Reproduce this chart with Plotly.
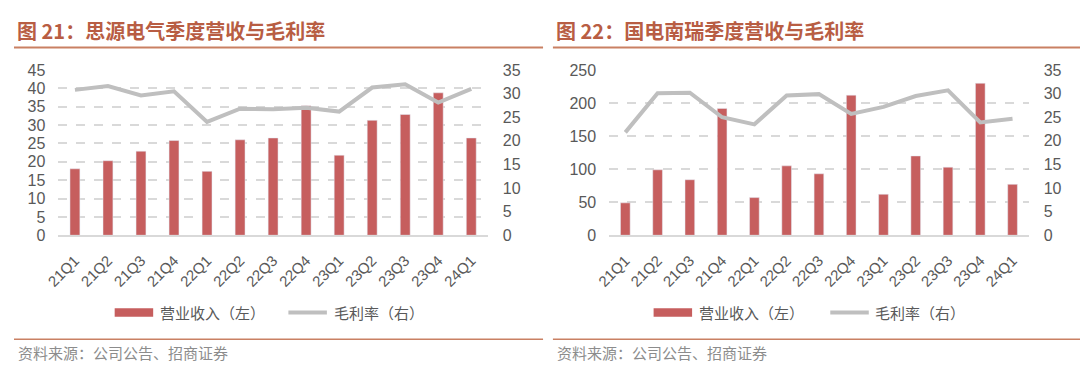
import plotly.graph_objects as go

W, H = 1080, 376

quarters = ["21Q1", "21Q2", "21Q3", "21Q4", "22Q1", "22Q2", "22Q3", "22Q4",
            "23Q1", "23Q2", "23Q3", "23Q4", "24Q1"]

# 思源电气
sy_revenue = [18.1, 20.3, 22.9, 25.8, 17.4, 26.0, 26.5, 35.3, 21.8, 31.3, 32.9, 38.8, 26.5]
sy_margin = [30.8, 31.6, 29.6, 30.5, 24.0, 26.8, 26.7, 27.0, 26.2, 31.3, 32.0, 28.1, 31.0]

# 国电南瑞
nr_revenue = [49, 99, 84, 192, 57, 105, 93, 212, 62, 120, 103, 230, 77]
nr_margin = [21.8, 30.1, 30.2, 25.0, 23.5, 29.6, 29.9, 25.7, 27.2, 29.5, 30.7, 23.9, 24.7]

titles = ["图 21：思源电气季度营收与毛利率", "图 22：国电南瑞季度营收与毛利率"]
legend_names = ["营业收入（左）", "毛利率（右）"]
source_text = "资料来源：公司公告、招商证券"

BAR_C = "#C65E5E"
LINE_C = "#BFBFBF"
GRID_C = "#D9D9D9"
TICK_C = "#595959"
TITLE_C = "#B85D43"
RULE_C = "#C98063"
NUM_FONT = "Liberation Sans, Arial, sans-serif"
CJK_FONT = "Noto Sans CJK SC, sans-serif"


def px_x(v):
    return v / W


def px_y(v):
    return 1 - v / H


fig = go.Figure()

fig.add_trace(go.Bar(x=quarters, y=sy_revenue, name=legend_names[0], marker_color=BAR_C,
                     width=0.3, xaxis="x", yaxis="y"))
fig.add_trace(go.Scatter(x=quarters, y=sy_margin, name=legend_names[1], mode="lines",
                         line=dict(color=LINE_C, width=4), xaxis="x", yaxis="y2"))
fig.add_trace(go.Bar(x=quarters, y=nr_revenue, name=legend_names[0], marker_color=BAR_C,
                     width=0.3, xaxis="x2", yaxis="y3"))
fig.add_trace(go.Scatter(x=quarters, y=nr_margin, name=legend_names[1], mode="lines",
                         line=dict(color=LINE_C, width=4), xaxis="x2", yaxis="y4"))

ydom = [px_y(238), px_y(65)]
tickfont = dict(family=NUM_FONT, size=16, color=TICK_C)
xtickfont = dict(family=NUM_FONT, size=15, color=TICK_C)

xcommon = dict(type="category", tickangle=-45, tickfont=xtickfont, showgrid=False,
               showline=True, linecolor=GRID_C, linewidth=1.5, ticks="",
               ticklabelstandoff=9, zeroline=False)
yleft = dict(showgrid=True, gridcolor=GRID_C, griddash="dash", gridwidth=1.5,
             zeroline=False, showline=False, tickfont=tickfont, ticklabelstandoff=12,
             domain=ydom)
yright = dict(showgrid=False, zeroline=False, showline=False, tickfont=tickfont,
              ticklabelstandoff=14, side="right", range=[0, 35], dtick=5)

fig.update_layout(
    width=W, height=H,
    margin=dict(l=0, r=0, t=0, b=0),
    paper_bgcolor="white", plot_bgcolor="white",
    showlegend=False,
    bargap=0.7,
    xaxis=dict(domain=[px_x(45), px_x(480)], anchor="y", **xcommon),
    xaxis2=dict(domain=[px_x(603), px_x(1028)], anchor="y3", **xcommon),
    yaxis=dict(anchor="x", range=[0, 45], dtick=5, **yleft),
    yaxis2=dict(anchor="x", overlaying="y", **yright),
    yaxis3=dict(anchor="x2", range=[0, 250], dtick=50, **yleft),
    yaxis4=dict(anchor="x2", overlaying="y3", **yright),
)

shapes = []
annotations = []

# titles and rules
for i, (x0, x1) in enumerate([(0, 536), (546, 1080)]):
    annotations.append(dict(text="<b>" + titles[i] + "</b>", x=px_x(x0 + 1), y=px_y(23.5),
                            xref="paper", yref="paper", xanchor="left", yanchor="middle",
                            showarrow=False, font=dict(family=CJK_FONT, size=20, color=TITLE_C)))
    shapes.append(dict(type="line", xref="paper", yref="paper", x0=px_x(x0), x1=px_x(x1),
                       y0=px_y(41.5), y1=px_y(41.5), line=dict(color=RULE_C, width=2)))
    shapes.append(dict(type="line", xref="paper", yref="paper", x0=px_x(x0), x1=px_x(x1),
                       y0=px_y(347), y1=px_y(347), line=dict(color=RULE_C, width=1.5)))
    annotations.append(dict(text=source_text, x=px_x(x0 + 2), y=px_y(361),
                            xref="paper", yref="paper", xanchor="left", yanchor="middle",
                            showarrow=False, font=dict(family=CJK_FONT, size=15, color="#8C8C8C")))

# legends
for bx0, tx1, lx0, tx2 in [(102, 146, 278, 322), (648, 692, 827, 870)]:
    shapes.append(dict(type="rect", xref="paper", yref="paper", x0=px_x(bx0), x1=px_x(bx0 + 39),
                       y0=px_y(323.5), y1=px_y(314.5), fillcolor=BAR_C, line=dict(width=0)))
    shapes.append(dict(type="line", xref="paper", yref="paper", x0=px_x(lx0), x1=px_x(lx0 + 39),
                       y0=px_y(319), y1=px_y(319), line=dict(color=LINE_C, width=4)))
    annotations.append(dict(text=legend_names[0], x=px_x(tx1), y=px_y(319), xref="paper",
                            yref="paper", xanchor="left", yanchor="middle", showarrow=False,
                            font=dict(family=CJK_FONT, size=15, color=TICK_C)))
    annotations.append(dict(text=legend_names[1], x=px_x(tx2), y=px_y(319), xref="paper",
                            yref="paper", xanchor="left", yanchor="middle", showarrow=False,
                            font=dict(family=CJK_FONT, size=15, color=TICK_C)))

fig.update_layout(shapes=shapes, annotations=annotations)

fig.write_html("out.html", config={"displayModeBar": False},
               post_script="document.body.style.margin='0';document.body.style.overflow='hidden';")
